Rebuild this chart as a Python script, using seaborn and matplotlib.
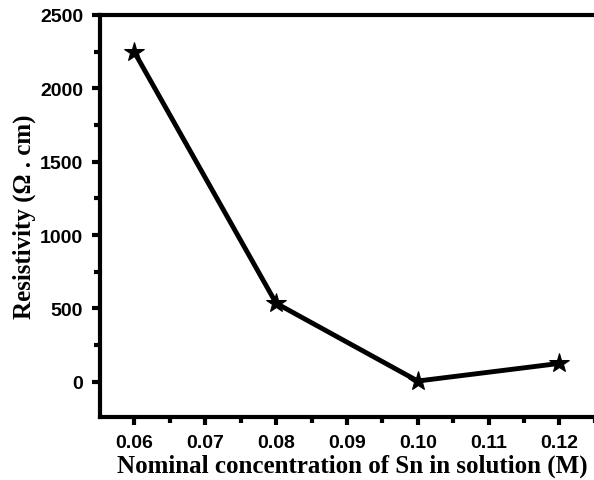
import matplotlib
matplotlib.use("Agg")
import matplotlib.pyplot as plt
import seaborn as sns
import pandas as pd
from matplotlib.ticker import MultipleLocator

concentration = [0.06, 0.08, 0.10, 0.12]
resistivity = [2245, 535, 5, 125]
xticks = [0.06, 0.07, 0.08, 0.09, 0.10, 0.11, 0.12]
xtick_labels = ["0.06", "0.07", "0.08", "0.09", "0.10", "0.11", "0.12"]
yticks = [0, 500, 1000, 1500, 2000, 2500]

df = pd.DataFrame({"x": concentration, "y": resistivity})

sns.set_style("ticks")
plt.rcParams["text.color"] = "black"
plt.rcParams["axes.labelcolor"] = "black"
plt.rcParams["xtick.color"] = "black"
plt.rcParams["ytick.color"] = "black"

fig = plt.figure(figsize=(5.94, 4.81), dpi=100)
ax = fig.add_axes([0.168, 0.131, 0.85, 0.836])

sns.lineplot(data=df, x="x", y="y", ax=ax, color="black", linewidth=3.5,
             marker="*", markersize=15, markeredgecolor="black",
             markerfacecolor="black")

ax.set_xlim(0.0551, 0.1264)
ax.set_ylim(-240, 2500)
ax.set_xticks(xticks)
ax.set_xticklabels(xtick_labels)
ax.set_yticks(yticks)
ax.xaxis.set_minor_locator(MultipleLocator(0.005))
ax.yaxis.set_minor_locator(MultipleLocator(250))

for side in ["left", "bottom", "top", "right"]:
    ax.spines[side].set_linewidth(3)
    ax.spines[side].set_color("black")

ax.tick_params(which="major", direction="out", length=6, width=3,
               labelsize=14, pad=6, colors="black")
ax.tick_params(which="minor", direction="out", length=4, width=3, colors="black")
for lab in ax.get_xticklabels() + ax.get_yticklabels():
    lab.set_fontweight("bold")
    lab.set_family("Liberation Sans")

ax.set_xlabel("Nominal concentration of Sn in solution (M)",
              fontsize=18, fontweight="bold", family="Liberation Serif",
              labelpad=2, color="black")
ax.set_ylabel("Resistivity (Ω . cm)",
              fontsize=18, fontweight="bold", family="Liberation Serif",
              labelpad=3, color="black")

fig.savefig("out.png", dpi=100)
